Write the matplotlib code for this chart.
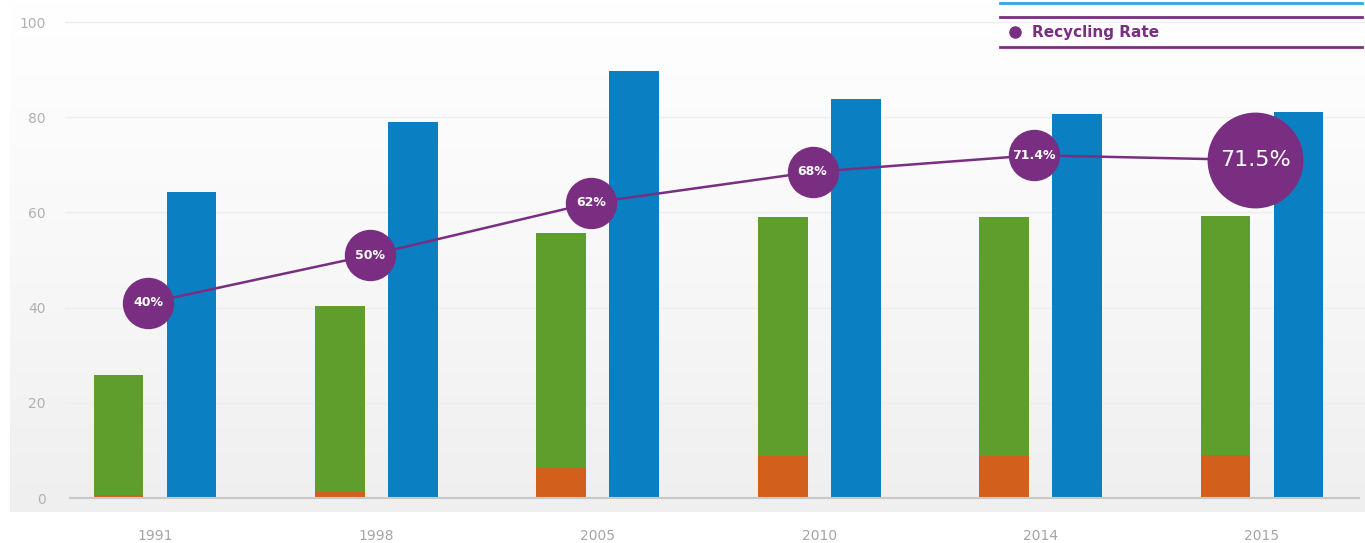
import matplotlib
matplotlib.use("Agg")
import matplotlib.pyplot as plt
import numpy as np
from matplotlib.lines import Line2D
from matplotlib.colors import LinearSegmentedColormap

years = ["1991", "1998", "2005", "2010", "2014", "2015"]
orange_vals = [0.6, 1.2, 6.3, 8.8, 8.8, 9.0]
green_totals = [25.8, 40.3, 55.7, 59.0, 59.0, 59.2]
blue_vals = [64.3, 79.0, 89.7, 83.8, 80.7, 81.0]
rate_vals = [41.0, 51.0, 62.0, 68.5, 72.0, 71.0]
rate_labels = ["40%", "50%", "62%", "68%", "71.4%", "71.5%"]
yticks = [0, 20, 40, 60, 80, 100]

GREEN = "#5f9e2c"
BLUE = "#0a80c2"
ORANGE = "#d2601c"
PURPLE = "#7a2e82"

W, H = 1365, 543
fig = plt.figure(figsize=(W / 100, H / 100), dpi=100)
fig.patch.set_facecolor("white")

# background gradient
bg = fig.add_axes([10 / W, (H - 512) / H, 1 - 10 / W, 512 / H])
grad = np.linspace(1.0, 0.0, 256).reshape(-1, 1)
cmap = LinearSegmentedColormap.from_list("g", ["#ffffff", "#f8f8f8", "#efefef"])
bg.imshow(grad, aspect="auto", cmap=cmap, extent=[0, 1, 0, 1], origin="lower", vmin=0, vmax=1)
bg.axis("off")

ax = fig.add_axes([65 / W, (H - 512) / H, 1 - 65 / W, 512 / H])
ax.patch.set_alpha(0)
px_per_unit = 4.76
ax.set_ylim((498 - 512) / px_per_unit, 498 / px_per_unit)
ax.set_xlim((65 - 155) / 221.4, (1365 - 155) / 221.4)

x = np.arange(len(years))
bw = 0.225
off = 0.165
green_vals = [g - o for g, o in zip(green_totals, orange_vals)]
ax.bar(x - off, orange_vals, bw, color=ORANGE, zorder=2)
ax.bar(x - off, green_vals, bw, bottom=orange_vals, color=GREEN, zorder=2)
ax.bar(x + off, blue_vals, bw, color=BLUE, zorder=2)

for t in yticks[1:]:
    ax.axhline(t, color="#eeeeee", lw=1, zorder=1)
ax.axhline(0, xmin=0.004, xmax=0.995, color="#c8c8c8", lw=1.5, zorder=3)

xr = x - 0.03
ax.plot(xr, rate_vals, color=PURPLE, lw=1.8, zorder=4)
for i, (xv, yv, lab) in enumerate(zip(xr, rate_vals, rate_labels)):
    big = i == len(x) - 1
    ax.plot(xv, yv, "o", ms=69 if big else 37, color=PURPLE, zorder=5, mec="none")
    ax.text(xv, yv, lab, color="white", ha="center", va="center",
            fontsize=16 if big else 9, fontweight="normal" if big else "bold", zorder=6)

for s in ax.spines.values():
    s.set_visible(False)
ax.set_xticks(x)
ax.set_xticklabels(years, color="#a5a5a5", fontsize=10)
ax.set_yticks(yticks)
ax.set_yticklabels([str(t) for t in yticks], color="#b0b0b0", fontsize=10)
ax.tick_params(axis="x", length=0, pad=12)
ax.tick_params(axis="y", length=0, pad=14)

# legend fragment at top right
fig.add_artist(Line2D([1000 / W, 1362 / W], [1 - 3 / H, 1 - 3 / H], color="#29a9e0", lw=2))
fig.add_artist(Line2D([1000 / W, 1362 / W], [1 - 17 / H, 1 - 17 / H], color=PURPLE, lw=2))
fig.add_artist(Line2D([1000 / W, 1362 / W], [1 - 47 / H, 1 - 47 / H], color=PURPLE, lw=2))
fig.add_artist(Line2D([1015 / W], [1 - 32 / H], marker="o", ms=8, color=PURPLE, lw=0))
fig.text(1032 / W, 1 - 32 / H, "Recycling Rate", color=PURPLE, fontsize=11,
         fontweight="bold", va="center", ha="left")

fig.savefig("out.png", dpi=100)
